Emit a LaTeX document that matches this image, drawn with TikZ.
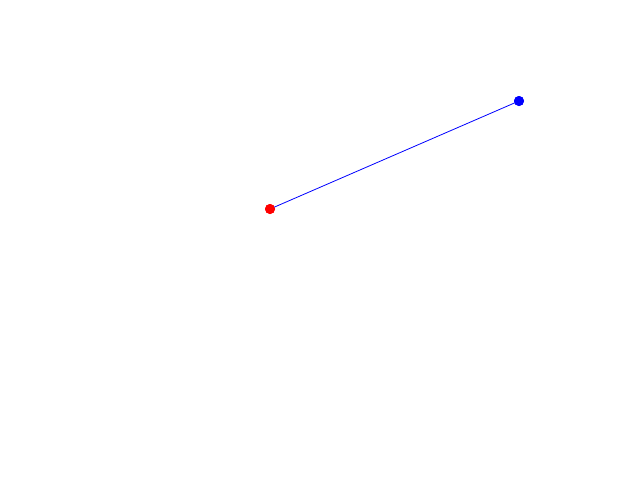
\documentclass[tikz,border=0pt]{standalone}
\begin{document}
\begin{tikzpicture}[x=1pt,y=-1pt,
  dot/.style={circle,inner sep=0pt,minimum size=10pt,fill=#1,draw=none}]
\useasboundingbox[fill=white] (0,0) rectangle (640,480);
\node[dot=red] (a) at (270,209) {};
\node[dot=blue] (b) at (519,101) {};
\draw[blue,line width=0.8pt] (a.center) -- (b.center);
\node[dot=red] at (a) {};
\node[dot=blue] at (b) {};
\end{tikzpicture}
\end{document}
